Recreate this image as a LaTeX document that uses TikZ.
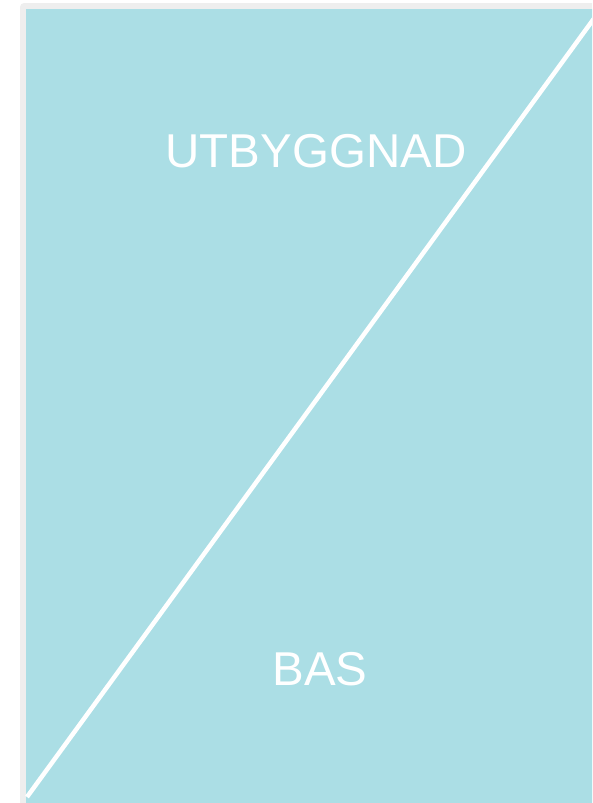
\documentclass[tikz,border=0pt]{standalone}
\usepackage{fontspec}
\setmainfont{Liberation Sans}
\definecolor{bluefill}{HTML}{ABDEE5}
\definecolor{framegray}{HTML}{EEEEEE}
\tikzset{lbl/.style={text=white, font=\fontsize{47.5}{50}\selectfont, inner sep=0pt, anchor=base}}
\begin{document}
\begin{tikzpicture}[x=1pt,y=-1pt]
\useasboundingbox (0,0) rectangle (592,803);
\clip (0,0) rectangle (592,803);
\fill[framegray, rounded corners=4pt] (20,3) rectangle (610,820);
\fill[bluefill] (26,9) rectangle (610,820);
\coordinate (a) at (27,797);
\coordinate (b) at (598,13);
\draw[white, line width=4.5pt] (a) -- (b);
\node[lbl] (t1) at (316,167) {UTBYGGNAD};
\node[lbl] (t2) at (320,685) {BAS};
\end{tikzpicture}
\end{document}
